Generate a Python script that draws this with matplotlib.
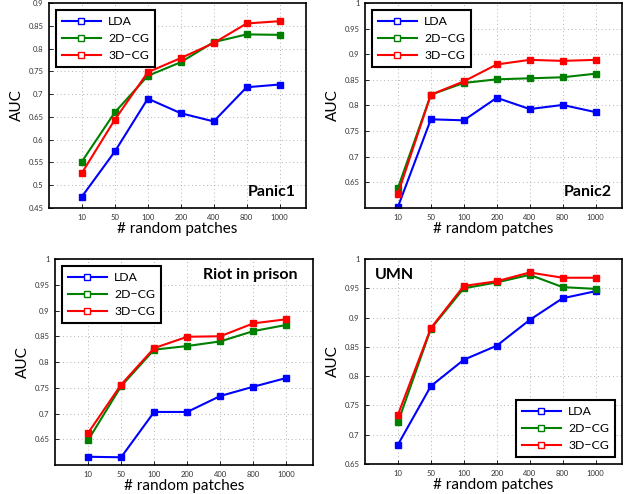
import matplotlib
matplotlib.use("Agg")
import matplotlib.pyplot as plt
from matplotlib.lines import Line2D

plt.rcParams['font.family'] = ['Lato', 'DejaVu Sans']

patches = ["10", "50", "100", "200", "400", "800", "1000"]
series = ["LDA", "2D\u2212CG", "3D\u2212CG"]
colors = ["#0000ff", "#008000", "#ff0000"]

panic1_lda = [0.475, 0.574, 0.690, 0.658, 0.640, 0.715, 0.721]
panic1_2d = [0.552, 0.660, 0.740, 0.770, 0.814, 0.831, 0.830]
panic1_3d = [0.527, 0.644, 0.748, 0.779, 0.812, 0.855, 0.860]

panic2_lda = [0.602, 0.773, 0.771, 0.815, 0.793, 0.801, 0.787]
panic2_2d = [0.639, 0.821, 0.844, 0.851, 0.853, 0.855, 0.862]
panic2_3d = [0.628, 0.821, 0.847, 0.880, 0.889, 0.887, 0.889]

riot_lda = [0.616, 0.615, 0.703, 0.703, 0.734, 0.752, 0.769]
riot_2d = [0.648, 0.753, 0.824, 0.831, 0.840, 0.860, 0.872]
riot_3d = [0.662, 0.756, 0.827, 0.849, 0.850, 0.875, 0.883]

umn_lda = [0.683, 0.783, 0.828, 0.852, 0.896, 0.933, 0.945]
umn_2d = [0.721, 0.881, 0.950, 0.960, 0.973, 0.952, 0.949]
umn_3d = [0.734, 0.882, 0.954, 0.962, 0.977, 0.968, 0.968]

panels = [
    # rect, data, ylim, yticks, title, title pos, align, legend loc
    ([0.0775, 0.579, 0.4066, 0.415], [panic1_lda, panic1_2d, panic1_3d],
     (0.45, 0.9), [0.45, 0.5, 0.55, 0.6, 0.65, 0.7, 0.75, 0.8, 0.85, 0.9],
     "Panic1", (0.96, 0.08), "right", "upper left"),
    ([0.5775, 0.579, 0.4066, 0.415], [panic2_lda, panic2_2d, panic2_3d],
     (0.6, 1.0), [0.65, 0.7, 0.75, 0.8, 0.85, 0.9, 0.95, 1.0],
     "Panic2", (0.96, 0.08), "right", "upper left"),
    ([0.087, 0.0587, 0.408, 0.417], [riot_lda, riot_2d, riot_3d],
     (0.6, 1.0), [0.65, 0.7, 0.75, 0.8, 0.85, 0.9, 0.95, 1.0],
     "Riot in prison", (0.94, 0.92), "right", "upper left"),
    ([0.5775, 0.0607, 0.4066, 0.415], [umn_lda, umn_2d, umn_3d],
     (0.65, 1.0), [0.65, 0.7, 0.75, 0.8, 0.85, 0.9, 0.95, 1.0],
     "UMN", (0.04, 0.92), "left", "lower right"),
]

fig = plt.figure(figsize=(6.32, 4.94), dpi=100)
x = list(range(1, len(patches) + 1))

for rect, data, ylim, yticks, title, tpos, tha, legloc in panels:
    ax = fig.add_axes(rect)
    for vals, c in zip(data, colors):
        ax.plot(x, vals, color=c, lw=1.5, marker="s", ms=4.5,
                markerfacecolor=c, markeredgecolor=c)
    ax.set_xlim(0, 7.8)
    ax.set_ylim(*ylim)
    ax.set_xticks(x)
    ax.set_xticklabels(patches)
    ax.set_yticks(yticks)
    ax.set_yticklabels(["%g" % t for t in yticks])
    ax.tick_params(direction="in", length=3, width=0.6, labelsize=5.5,
                   labelcolor="#333333", pad=4)
    ax.grid(True, linestyle=(0, (1, 3.5)), color="#999999", linewidth=0.6)
    for s in ax.spines.values():
        s.set_linewidth(1.2)
    ax.set_xlabel("# random patches", fontsize=11, labelpad=1)
    ax.set_ylabel("AUC", fontsize=11, labelpad=3)
    ax.text(tpos[0], tpos[1], title, transform=ax.transAxes, ha=tha,
            va="center", fontsize=11.5, fontweight="bold")
    handles = [Line2D([], [], color=c, lw=1.5, marker="s", ms=5,
                      markerfacecolor="white", markeredgecolor=c)
               for c in colors]
    leg = ax.legend(handles, series, loc=legloc, fontsize=8.8,
                    fancybox=False, framealpha=1, edgecolor="black",
                    handlelength=3.2, borderpad=0.45, labelspacing=0.5,
                    handletextpad=0.6, borderaxespad=0.6)
    leg.get_frame().set_linewidth(1.5)

fig.savefig("out.png", dpi=100)
